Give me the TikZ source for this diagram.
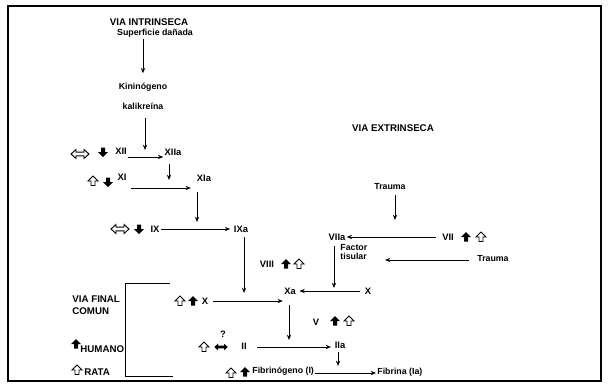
\documentclass[tikz,border=0pt]{standalone}
\usepackage{fontspec}
\setsansfont{Liberation Sans}
\usetikzlibrary{positioning, arrows.meta, calc}
\tikzset{
  lbl/.style={font=\sffamily\bfseries\fontsize{7.5}{8.5}\selectfont, inner sep=1pt},
  num/.style={font=\sffamily\bfseries\fontsize{8}{9}\selectfont, inner sep=1pt},
  head/.style={font=\sffamily\bfseries\fontsize{8.3}{10}\selectfont, inner sep=1pt, align=left},
  flow/.style={-{Stealth[length=4.5pt,width=3.6pt]}, line width=0.8pt},
  solidsym/.style={fill=black},
  hollowsym/.style={draw=black, fill=white, line width=0.8pt},
  upsym/.pic={\path[pic actions] (0,-5) -- (5,0) -- (2,0) -- (2,4.5) -- (-2,4.5) -- (-2,0) -- (-5,0) -- cycle;},
  downsym/.pic={\path[pic actions] (0,5) -- (5,0) -- (2,0) -- (2,-4.5) -- (-2,-4.5) -- (-2,0) -- (-5,0) -- cycle;},
  lrsym/.pic={\path[pic actions] (-9,0) -- (-4,-4.5) -- (-4,-1.8) -- (4,-1.8) -- (4,-4.5) -- (9,0) -- (4,4.5) -- (4,1.8) -- (-4,1.8) -- (-4,4.5) -- cycle;},
}

\begin{document}
\begin{tikzpicture}[x=0.03cm, y=-0.03cm]
  \useasboundingbox (0,0) rectangle (608,383);
  \draw[line width=1.1pt] (8,6) rectangle (601,381);

  % via intrinseca
  \node[head] (intr) at (149,22) {VIA INTRINSECA};
  \node[lbl] (sup) at (155,33) {Superficie dañada};
  \node[lbl] (kin) at (143,87) {Kininógeno};
  \node[lbl] (kal) at (143,106) {kalikreína};
  \draw[flow, shorten >=7pt] (sup.south -| kin.north) -- (kin.north);

  \coordinate (r12) at (0,157);
  \coordinate (r11) at (0,188);
  \coordinate (r9) at (0,229);
  \coordinate (c12) at (145,150);
  \coordinate (c11) at (169,180);
  \coordinate (c9) at (197,222);
  \coordinate (c10) at (244,293);

  \pic[hollowsym] at (80,154) {lrsym};
  \pic[solidsym] at (103,152) {downsym};
  \node[num] (XII) at (121,151) {XII};
  \node[num] (XIIa) at (173,152) {XIIa};
  \draw[flow, shorten <=6pt] (kal.south -| c12) -- (c12);
  \draw[flow] (XII.east |- r12) -- (XIIa.west |- r12);

  \pic[hollowsym] at (93,181) {upsym};
  \pic[solidsym] at (108,182) {downsym};
  \node[num] (XI) at (122,177) {XI};
  \node[num] (XIa) at (204,178) {XIa};
  \draw[flow, shorten <=6pt] (XIIa.south -| c11) -- (c11);
  \draw[flow, shorten <=3pt, shorten >=4pt] (XI.east |- r11) -- (XIa.west |- r11);

  \pic[hollowsym] at (120,229) {lrsym};
  \pic[solidsym] at (139,229) {downsym};
  \node[num] (IX) at (155,229) {IX};
  \node[num] (IXa) at (241,229) {IXa};
  \draw[flow, shorten <=8pt] (XIa.south -| c9) -- (c9);
  \draw[flow, shorten >=2pt] (IX.east |- r9) -- (IXa.west |- r9);

  \node[num] (VIII) at (267,264) {VIII};
  \pic[solidsym] at (286,264) {upsym};
  \pic[hollowsym] at (299,264) {upsym};
  \draw[flow, shorten <=3pt] (IXa.south -| c10) -- (c10);

  % via extrinseca
  \node[head] (extr) at (393,128) {VIA EXTRINSECA};
  \node[lbl] (trA) at (390,187) {Trauma};
  \node[num] (VIIa) at (337,237) {VIIa};
  \node[num] (VII) at (448,237) {VII};
  \pic[solidsym] at (466,237) {upsym};
  \pic[hollowsym] at (481,237) {upsym};
  \node[lbl, align=left, anchor=west] (fact) at (339,252) {Factor\\tisular};
  \node[lbl] (trB) at (493,259) {Trauma};

  \coordinate (r7) at (0,237);
  \coordinate (rt) at (0,260);
  \coordinate (c7a) at (395,220);
  \coordinate (c7b) at (385,260);
  \coordinate (c7) at (334,288);
  \draw[flow, shorten <=3pt] (trA.south -| c7a) -- (c7a);
  \draw[flow, shorten <=4pt] (VII.west |- r7) -- (VIIa.east |- r7);
  \draw[flow, shorten <=6pt] (trB.west |- rt) -- (c7b);
  \draw[flow, shorten <=4pt] (VIIa.south -| c7) -- (c7);

  % via final comun
  \node[head, anchor=west] (final) at (71,305) {VIA FINAL\\COMUN};
  \draw[line width=0.8pt] (170,283) -- (125,283) -- (125,376) -- (173,376);
  \pic[solidsym] at (76,344) {upsym};
  \node[head, anchor=west] (hum) at (79,349) {HUMANO};
  \pic[hollowsym] at (77,370) {upsym};
  \node[head, anchor=west] (rata) at (83,372) {RATA};

  \coordinate (r10) at (0,301);
  \coordinate (r10b) at (0,291);
  \coordinate (r2) at (0,347);
  \coordinate (r1) at (0,373);
  \coordinate (c2) at (289,340);
  \coordinate (c1) at (338,366);

  \pic[hollowsym] at (180,301) {upsym};
  \pic[solidsym] at (193,301) {upsym};
  \node[num] (X) at (205,301) {X};
  \node[num] (Xa) at (290,291) {Xa};
  \node[num] (Xr) at (368,291) {X};
  \draw[flow, shorten <=3pt] (X.east |- r10) -- (Xa.west |- r10);
  \draw[flow, shorten <=3pt, shorten >=2pt] (Xr.west |- r10b) -- (Xa.east |- r10b);

  \node[num] (V) at (316,322) {V};
  \pic[solidsym] at (335,321) {upsym};
  \pic[hollowsym] at (349,321) {upsym};

  \pic[hollowsym] at (204,347) {upsym};
  \pic[solidsym, scale=0.75] at (221,347) {lrsym};
  \node[num] (q) at (223,334) {?};
  \node[num] (II) at (244,346) {II};
  \node[num] (IIa) at (340,345) {IIa};
  \draw[flow, shorten <=8pt] (Xa.south -| c2) -- (c2);
  \draw[flow, shorten <=8pt, shorten >=2pt] (II.east |- r2) -- (IIa.west |- r2);

  \pic[hollowsym] at (231,373) {upsym};
  \pic[solidsym] at (245,372) {upsym};
  \node[lbl, anchor=west] (fbg) at (251,371) {Fibrinógeno (I)};
  \node[lbl, anchor=west] (fbn) at (376,372) {Fibrina (Ia)};
  \draw[flow, shorten <=2pt] (IIa.south -| c1) -- (c1);
  \draw[flow] (fbg.east |- r1) -- (fbn.west |- r1);
\end{tikzpicture}
\end{document}
